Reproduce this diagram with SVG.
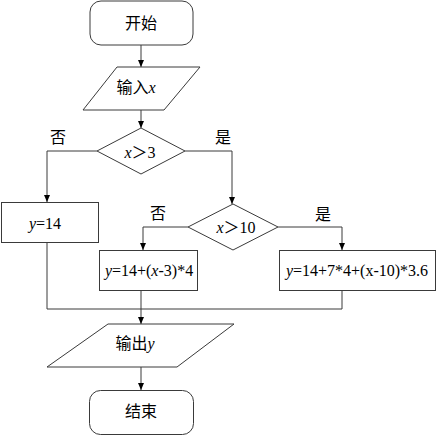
<svg xmlns="http://www.w3.org/2000/svg" width="437" height="436" viewBox="0 0 437 436">
<defs>
<style>
.s{fill:#fff;stroke:#3a3a3a;stroke-width:1}
.c{fill:none;stroke:#3a3a3a;stroke-width:1}
.t{font-family:"Liberation Serif","Noto Sans CJK SC",serif;font-size:16px;fill:#000;text-anchor:middle}
.i{font-style:italic}
</style>
<marker id="a" markerWidth="8" markerHeight="8" refX="7" refY="4" orient="auto" markerUnits="userSpaceOnUse">
<path d="M0,1 L7,4 L0,7 Z" fill="#000"/>
</marker>
</defs>
<rect width="437" height="436" fill="#fff"/>
<g id="connectors">
<path class="c" d="M141,45 V67" marker-end="url(#a)"/>
<path class="c" d="M141,110 V128" marker-end="url(#a)"/>
<path class="c" d="M97,151 H47 V202" marker-end="url(#a)"/>
<path class="c" d="M185,151 H232 V204" marker-end="url(#a)"/>
<path class="c" d="M188,227 H143 V250" marker-end="url(#a)"/>
<path class="c" d="M278,227 H342 V250" marker-end="url(#a)"/>
<path class="c" d="M47,243 V309 H342 V290"/>
<path class="c" d="M141,290 V324" marker-end="url(#a)"/>
<path class="c" d="M141,367 V390" marker-end="url(#a)"/>
<text class="t" x="58" y="143">否</text>
<text class="t" x="223" y="143">是</text>
<text class="t" x="158" y="219">否</text>
<text class="t" x="323" y="220">是</text>
</g>
<g id="start">
<rect class="s" x="90" y="1" width="103" height="44" rx="11"/>
<text class="t" x="141" y="29">开始</text>
</g>
<g id="input">
<polygon class="s" points="117,67 200,67 164,110 83,110"/>
<text class="t" x="136" y="93">输入<tspan class="i">x</tspan></text>
</g>
<g id="cond1">
<polygon class="s" points="141,128 185,151 141,174 97,151"/>
<text class="t" x="140" y="158"><tspan class="i">x</tspan>＞3</text>
</g>
<g id="y14">
<rect class="s" x="1.5" y="202.5" width="97" height="40"/>
<text class="t" x="45" y="229"><tspan class="i">y</tspan>=14</text>
</g>
<g id="cond2">
<polygon class="s" points="233,204 278,227 233,250 188,227"/>
<text class="t" x="236" y="233"><tspan class="i">x</tspan>＞10</text>
</g>
<g id="ymid">
<rect class="s" x="99.5" y="250.5" width="98" height="40"/>
<text class="t" x="149" y="276"><tspan class="i">y</tspan>=14+(<tspan class="i">x</tspan>-3)*4</text>
</g>
<g id="yright">
<rect class="s" x="279.5" y="250.5" width="156" height="40"/>
<text class="t" x="357" y="276"><tspan class="i">y</tspan>=14+7*4+(x-10)*3.6</text>
</g>
<g id="output">
<polygon class="s" points="108,324 234,324 177,367 47,367"/>
<text class="t" x="135" y="349">输出<tspan class="i">y</tspan></text>
</g>
<g id="end">
<rect class="s" x="89.5" y="390.5" width="104" height="44" rx="11"/>
<text class="t" x="141" y="417">结束</text>
</g>
</svg>
